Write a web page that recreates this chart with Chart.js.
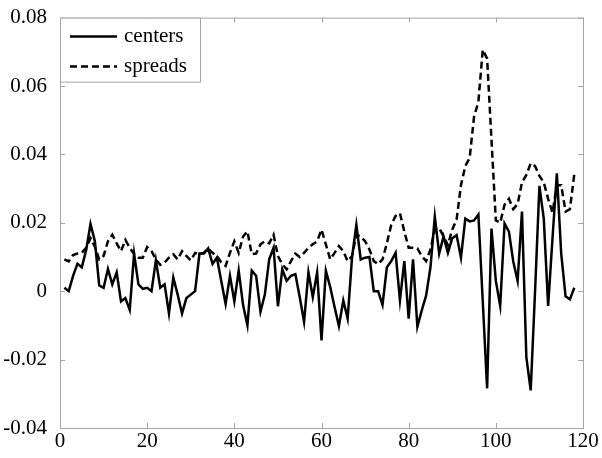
<!DOCTYPE html>
<html>
<head>
<meta charset="utf-8">
<script src="https://cdn.jsdelivr.net/npm/chart.js@4"></script>
<style>
    html, body { margin: 0; padding: 0; background: #fff; }
    #wrap { width: 602px; height: 458px; }
</style>
</head>
<body>
<div id="wrap"><canvas id="chart" width="602" height="458"></canvas></div>
<script>
const xTicks = [0, 20, 40, 60, 80, 100, 120];
const yTicks = [-0.04, -0.02, 0, 0.02, 0.04, 0.06, 0.08];
const seriesNames = ["centers", "spreads"];

// values for t = 1..118
const centers = [
    0.001, 0.0, 0.0045, 0.008, 0.007, 0.012, 0.0197, 0.0146, 0.0017, 0.001,
    0.0065, 0.002, 0.0055, -0.003, -0.002, -0.0055, 0.011, 0.002, 0.0007, 0.001,
    0.0, 0.009, 0.001, 0.002, -0.0065, 0.004, -0.001, -0.0065, -0.002, -0.001,
    0.0, 0.011, 0.011, 0.0125, 0.008, 0.0098, 0.003, -0.0037, 0.0045, -0.003,
    0.006, -0.004, -0.010, 0.006, 0.0045, -0.006, -0.001, 0.0093, 0.0127, -0.0044,
    0.0064, 0.003, 0.0045, 0.005, -0.0017, -0.009, 0.0055, -0.0017, 0.0055, -0.0144,
    0.006, 0.0012, -0.0046, -0.0102, -0.0027, -0.008, 0.0098, 0.0194, 0.0093, 0.0098,
    0.01, 0.0, 0.0, -0.004, 0.007, 0.0088, 0.0112, -0.0027, 0.0088, -0.008,
    0.0093, -0.0104, -0.0056, -0.0013, 0.007, 0.0218, 0.011, 0.016, 0.0112, 0.0155,
    0.0164, 0.0098, 0.0212, 0.0204, 0.0207, 0.0224, -0.003, -0.0284, 0.0183, 0.003,
    -0.0043, 0.0198, 0.0174, 0.0087, 0.003, 0.0233, -0.0193, -0.029, 0.0, 0.0308,
    0.0212, -0.0043, 0.0154, 0.0345, 0.011, -0.0015, -0.0024, 0.001
];
const spreads = [
    0.0093, 0.0087, 0.0106, 0.011, 0.0112, 0.0127, 0.0155, 0.013, 0.0093, 0.0103,
    0.0146, 0.0165, 0.014, 0.0117, 0.015, 0.0127, 0.0108, 0.0098, 0.0098, 0.0129,
    0.0117, 0.0093, 0.0077, 0.0084, 0.0098, 0.0108, 0.0093, 0.0117, 0.0103, 0.009,
    0.0112, 0.0108, 0.0112, 0.0125, 0.0112, 0.0103, 0.0084, 0.0074, 0.0112, 0.0146,
    0.0112, 0.016, 0.0175, 0.0108, 0.011, 0.0137, 0.0146, 0.014, 0.0165, 0.0103,
    0.0079, 0.0064, 0.0088, 0.011, 0.01, 0.0112, 0.0127, 0.0137, 0.0146, 0.018,
    0.0137, 0.0093, 0.0112, 0.0132, 0.0117, 0.0088, 0.0103, 0.0165, 0.016, 0.0146,
    0.0122, 0.0088, 0.0079, 0.0093, 0.014, 0.0194, 0.022, 0.0228, 0.0175, 0.0127,
    0.0127, 0.0125, 0.0103, 0.0088, 0.0122, 0.018, 0.0185, 0.016, 0.0135, 0.018,
    0.021, 0.031, 0.0366, 0.039, 0.051, 0.0554, 0.0706, 0.068, 0.0443, 0.0207,
    0.020, 0.0253, 0.027, 0.024, 0.0255, 0.0318, 0.034, 0.0374, 0.0366, 0.0337,
    0.0318, 0.027, 0.023, 0.031, 0.031, 0.0233, 0.024, 0.0342
];

const FONT = "'Liberation Serif', 'Times New Roman', serif";
const FRAME = "#a6a6a6";

const toPoints = arr => arr.map((v, i) => ({x: i + 1, y: v}));

// box, inward ticks and the legend, matlab style
const framePlugin = {
    id: "frame",
    afterDatasetsDraw(chart) {
        const {ctx, chartArea: a, scales} = chart;
        ctx.save();
        ctx.strokeStyle = FRAME;
        ctx.lineWidth = 1;
        ctx.strokeRect(a.left + 0.5, a.top + 0.5, a.right - a.left, a.bottom - a.top);

        ctx.beginPath();
        for (const v of xTicks) {
            const px = Math.round(scales.x.getPixelForValue(v)) + 0.5;
            ctx.moveTo(px, a.bottom); ctx.lineTo(px, a.bottom - 5);
            ctx.moveTo(px, a.top); ctx.lineTo(px, a.top + 5);
        }
        for (const v of yTicks) {
            const py = Math.round(scales.y.getPixelForValue(v)) + 0.5;
            ctx.moveTo(a.left, py); ctx.lineTo(a.left + 5, py);
            ctx.moveTo(a.right, py); ctx.lineTo(a.right - 5, py);
        }
        ctx.stroke();

        // legend
        const lx = a.left + 0.5, ly = a.top + 0.5, lw = 140, lh = 64;
        ctx.fillStyle = "#fff";
        ctx.fillRect(lx, ly, lw, lh);
        ctx.strokeStyle = FRAME;
        ctx.strokeRect(lx, ly, lw, lh);

        ctx.font = "21px " + FONT;
        ctx.textBaseline = "middle";
        ctx.textAlign = "left";
        chart.data.datasets.forEach((ds, i) => {
            const y = a.top + 19 + i * 30;
            ctx.strokeStyle = "#000";
            ctx.lineWidth = ds.borderWidth;
            ctx.setLineDash(ds.borderDash || []);
            ctx.beginPath();
            ctx.moveTo(a.left + 10, y);
            ctx.lineTo(a.left + 57, y);
            ctx.stroke();
            ctx.setLineDash([]);
            ctx.fillStyle = "#000";
            ctx.fillText(ds.label, a.left + 64, y);
        });
        ctx.restore();
    }
};

new Chart(document.getElementById("chart"), {
    type: "line",
    data: {
        datasets: [
            {
                label: seriesNames[0],
                data: toPoints(centers),
                borderColor: "#000",
                borderWidth: 2.5,
                pointRadius: 0,
                tension: 0
            },
            {
                label: seriesNames[1],
                data: toPoints(spreads),
                borderColor: "#000",
                borderWidth: 2.5,
                borderDash: [7, 4],
                pointRadius: 0,
                tension: 0
            }
        ]
    },
    options: {
        responsive: false,
        animation: false,
        layout: {padding: {top: 13, right: 19, left: 0, bottom: 0}},
        plugins: {legend: {display: false}, tooltip: {enabled: false}},
        scales: {
            x: {
                type: "linear",
                min: 0, max: 120,
                afterBuildTicks: s => { s.ticks = xTicks.map(v => ({value: v})); },
                afterFit: s => { s.height = 30; },
                grid: {display: false},
                border: {display: false},
                ticks: {
                    color: "#000",
                    font: {family: FONT, size: 21},
                    padding: -7,
                    maxRotation: 0,
                    callback: v => String(v)
                }
            },
            y: {
                min: -0.04, max: 0.08,
                afterBuildTicks: s => { s.ticks = yTicks.map(v => ({value: v})); },
                afterFit: s => { s.width = 60; },
                grid: {display: false},
                border: {display: false},
                ticks: {
                    color: "#000",
                    font: {family: FONT, size: 21},
                    padding: 5,
                    callback: v => String(Number(v.toFixed(2)))
                }
            }
        }
    },
    plugins: [framePlugin]
});
</script>
</body>
</html>
